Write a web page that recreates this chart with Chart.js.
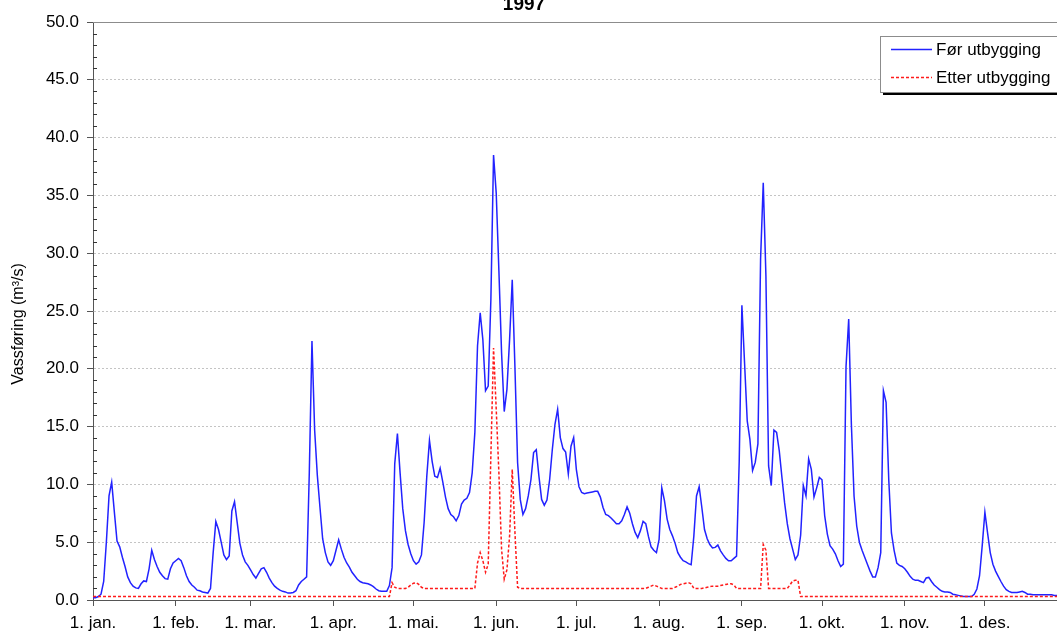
<!DOCTYPE html>
<html>
<head>
<meta charset="utf-8">
<title>Vassføring 1997</title>
<script src="https://cdn.jsdelivr.net/npm/chart.js@4.4.0/dist/chart.umd.min.js"></script>
<style>
  html, body { margin: 0; padding: 0; background: #fff; overflow: hidden; }
  #wrap { width: 1057px; height: 633px; overflow: hidden; }
</style>
</head>
<body>
<div id="wrap"><canvas id="flowChart" width="1070" height="633"></canvas></div>
<script>
// Daily discharge 1997 (m3/s), one value per day
const chartTitle = '1997';
const yTitle = 'Vassføring (m³/s)';
const seriesNames = ['Før utbygging', 'Etter utbygging'];

// x ticks: first day of each month (day index) and its label
const monthStarts = [0, 31, 59, 90, 120, 151, 181, 212, 243, 273, 304, 334];
const monthLabels = ['1. jan.', '1. feb.', '1. mar.', '1. apr.', '1. mai.', '1. jun.',
  '1. jul.', '1. aug.', '1. sep.', '1. okt.', '1. nov.', '1. des.'];

// Før utbygging (blue)
const flowBefore = [
  // jan
  0.2, 0.2, 0.3, 0.5, 1.6, 5.0, 9.0, 10.2, 7.6, 5.1, 4.6, 3.7, 2.9, 2.0, 1.5, 1.2,
  1.05, 1.0, 1.4, 1.65, 1.6, 2.7, 4.3, 3.5, 2.9, 2.4, 2.1, 1.85, 1.8, 2.7, 3.2,
  // feb
  3.4, 3.6, 3.4, 2.8, 2.1, 1.6, 1.3, 1.1, 0.85, 0.8, 0.7, 0.65, 0.6, 1.0, 4.1, 6.8,
  6.1, 5.0, 3.9, 3.5, 3.8, 7.7, 8.5, 6.7, 4.9, 3.9, 3.3, 3.0,
  // mar
  2.6, 2.2, 1.9, 2.3, 2.7, 2.8, 2.4, 1.9, 1.5, 1.2, 1.0, 0.85, 0.75, 0.7, 0.6, 0.6,
  0.65, 0.8, 1.3, 1.6, 1.8, 2.0, 11.0, 22.4, 14.7, 10.8, 8.0, 5.3, 4.1, 3.3, 3.0,
  // apr
  3.4, 4.3, 5.2, 4.4, 3.7, 3.2, 2.85, 2.4, 2.1, 1.8, 1.6, 1.5, 1.45, 1.4, 1.3, 1.15,
  0.95, 0.8, 0.75, 0.75, 0.75, 1.25, 2.8, 11.8, 14.4, 11.0, 7.9, 6.0, 4.8, 4.0,
  // mai
  3.4, 3.1, 3.3, 3.9, 6.7, 10.7, 13.8, 12.0, 10.7, 10.6, 11.4, 10.2, 8.9, 7.9, 7.4, 7.2,
  6.85, 7.3, 8.3, 8.65, 8.8, 9.3, 11.0, 14.5, 22.0, 24.85, 22.5, 18.1, 18.5, 26.0, 38.5,
  // jun
  35.2, 28.5, 21.4, 16.3, 18.2, 22.5, 27.7, 20.2, 11.9, 8.7, 7.4, 7.9, 9.0, 10.4, 12.75,
  13.0, 10.7, 8.7, 8.2, 8.65, 10.4, 13.0, 15.2, 16.5, 14.05, 13.1, 12.8, 10.9, 13.3, 14.05,
  // jul
  11.3, 9.8, 9.3, 9.2, 9.25, 9.3, 9.35, 9.4, 9.4, 8.9, 8.0, 7.4, 7.3, 7.1, 6.85, 6.6,
  6.6, 6.85, 7.4, 8.05, 7.5, 6.6, 5.85, 5.4, 6.0, 6.8, 6.6, 5.5, 4.6, 4.3, 4.1,
  // aug
  5.25, 9.7, 8.6, 7.0, 6.1, 5.55, 4.9, 4.1, 3.7, 3.4, 3.3, 3.15, 3.05, 5.5, 9.0, 9.8,
  8.0, 6.1, 5.3, 4.8, 4.5, 4.55, 4.75, 4.25, 3.9, 3.6, 3.4, 3.4, 3.6, 3.8, 12.0,
  // sep
  25.5, 20.5, 15.5, 13.9, 11.2, 11.9, 13.5, 29.5, 36.1, 28.0, 11.6, 9.9, 14.7, 14.5, 12.9,
  10.6, 8.4, 6.6, 5.3, 4.4, 3.5, 3.9, 5.6, 9.9, 9.0, 12.2, 11.3, 8.9, 9.7, 10.6,
  // okt
  10.4, 7.3, 5.7, 4.7, 4.4, 4.0, 3.4, 2.9, 3.1, 20.2, 24.3, 15.2, 9.0, 6.4, 5.0, 4.3,
  3.7, 3.1, 2.5, 2.0, 2.0, 2.8, 4.1, 18.1, 17.1, 10.4, 5.8, 4.3, 3.2, 3.0, 2.9,
  // nov
  2.7, 2.4, 2.05, 1.8, 1.7, 1.7, 1.6, 1.5, 1.9, 1.95, 1.6, 1.3, 1.1, 0.9, 0.75,
  0.7, 0.7, 0.65, 0.5, 0.45, 0.4, 0.35, 0.3, 0.3, 0.3, 0.3, 0.5, 0.95, 2.1, 4.7,
  // des
  7.6, 5.8, 4.1, 3.1, 2.5, 2.05, 1.6, 1.2, 0.9, 0.75, 0.65, 0.65, 0.65, 0.7, 0.75, 0.65,
  0.5, 0.5, 0.45, 0.45, 0.45, 0.45, 0.45, 0.45, 0.45, 0.45, 0.4, 0.4, 0.4, 0.4, 0.4
];

// Etter utbygging (red, dashed)
const flowAfter = [
  // jan
  0.3, 0.3, 0.3, 0.3, 0.3, 0.3, 0.3, 0.3, 0.3, 0.3, 0.3, 0.3, 0.3, 0.3, 0.3, 0.3,
  0.3, 0.3, 0.3, 0.3, 0.3, 0.3, 0.3, 0.3, 0.3, 0.3, 0.3, 0.3, 0.3, 0.3, 0.3,
  // feb
  0.3, 0.3, 0.3, 0.3, 0.3, 0.3, 0.3, 0.3, 0.3, 0.3, 0.3, 0.3, 0.3, 0.3, 0.3, 0.3,
  0.3, 0.3, 0.3, 0.3, 0.3, 0.3, 0.3, 0.3, 0.3, 0.3, 0.3, 0.3,
  // mar
  0.3, 0.3, 0.3, 0.3, 0.3, 0.3, 0.3, 0.3, 0.3, 0.3, 0.3, 0.3, 0.3, 0.3, 0.3, 0.3,
  0.3, 0.3, 0.3, 0.3, 0.3, 0.3, 0.3, 0.3, 0.3, 0.3, 0.3, 0.3, 0.3, 0.3, 0.3,
  // apr
  0.3, 0.3, 0.3, 0.3, 0.3, 0.3, 0.3, 0.3, 0.3, 0.3, 0.3, 0.3, 0.3, 0.3, 0.3, 0.3,
  0.3, 0.3, 0.3, 0.3, 0.3, 0.3, 1.5, 1.1, 1.0, 1.0, 1.0, 1.0, 1.1, 1.3,
  // mai
  1.45, 1.5, 1.35, 1.1, 1.0, 1.0, 1.0, 1.0, 1.0, 1.0, 1.0, 1.0, 1.0, 1.0, 1.0, 1.0,
  1.0, 1.0, 1.0, 1.0, 1.0, 1.0, 1.0, 1.0, 3.2, 4.1, 3.4, 2.4, 3.1, 12.5, 21.8,
  // jun
  16.5, 11.0, 4.4, 1.8, 2.6, 5.5, 11.3, 5.9, 1.1, 1.0, 1.0, 1.0, 1.0, 1.0, 1.0,
  1.0, 1.0, 1.0, 1.0, 1.0, 1.0, 1.0, 1.0, 1.0, 1.0, 1.0, 1.0, 1.0, 1.0, 1.0,
  // jul
  1.0, 1.0, 1.0, 1.0, 1.0, 1.0, 1.0, 1.0, 1.0, 1.0, 1.0, 1.0, 1.0, 1.0, 1.0, 1.0,
  1.0, 1.0, 1.0, 1.0, 1.0, 1.0, 1.0, 1.0, 1.0, 1.0, 1.0, 1.1, 1.2, 1.3, 1.2,
  // aug
  1.1, 1.0, 1.0, 1.0, 1.0, 1.0, 1.1, 1.2, 1.35, 1.4, 1.45, 1.5, 1.4, 1.0, 1.0, 1.0,
  1.0, 1.05, 1.1, 1.15, 1.2, 1.2, 1.2, 1.25, 1.3, 1.35, 1.4, 1.4, 1.3, 1.0, 1.0,
  // sep
  1.0, 1.0, 1.0, 1.0, 1.0, 1.0, 1.0, 1.0, 4.8, 4.3, 1.0, 1.0, 1.0, 1.0, 1.0,
  1.0, 1.0, 1.0, 1.3, 1.65, 1.7, 1.7, 0.3, 0.3, 0.3, 0.3, 0.3, 0.3, 0.3, 0.3,
  // okt
  0.3, 0.3, 0.3, 0.3, 0.3, 0.3, 0.3, 0.3, 0.3, 0.3, 0.3, 0.3, 0.3, 0.3, 0.3, 0.3,
  0.3, 0.3, 0.3, 0.3, 0.3, 0.3, 0.3, 0.3, 0.3, 0.3, 0.3, 0.3, 0.3, 0.3, 0.3,
  // nov
  0.3, 0.3, 0.3, 0.3, 0.3, 0.3, 0.3, 0.3, 0.3, 0.3, 0.3, 0.3, 0.3, 0.3, 0.3,
  0.3, 0.3, 0.3, 0.3, 0.3, 0.3, 0.3, 0.3, 0.3, 0.3, 0.3, 0.3, 0.3, 0.3, 0.3,
  // des
  0.3, 0.3, 0.3, 0.3, 0.3, 0.3, 0.3, 0.3, 0.3, 0.3, 0.3, 0.3, 0.3, 0.3, 0.3, 0.3,
  0.3, 0.3, 0.3, 0.3, 0.3, 0.3, 0.3, 0.3, 0.3, 0.3, 0.3, 0.3, 0.3, 0.3, 0.3
];

const FONT = "'Liberation Sans', Arial, sans-serif";
const BLUE = '#2222ff';
const RED = '#ff1a1a';

Chart.defaults.font.family = FONT;
Chart.defaults.color = '#000';

// title, y title, minor y ticks, top frame line and the boxed legend
const extras = {
  id: 'extras',
  afterDraw(chart) {
    const { ctx, chartArea: a } = chart;
    const y = chart.scales.y;
    ctx.save();

    // top line at 50
    ctx.strokeStyle = '#8c8c8c';
    ctx.lineWidth = 1;
    ctx.beginPath();
    ctx.moveTo(a.left, Math.round(a.top) + 0.5);
    ctx.lineTo(a.right, Math.round(a.top) + 0.5);
    ctx.stroke();

    // minor ticks on the y axis, pointing inwards
    ctx.strokeStyle = '#333';
    ctx.beginPath();
    for (let v = 1; v < 50; v++) {
      if (v % 5 === 0) continue;
      const py = Math.round(y.getPixelForValue(v)) + 0.5;
      ctx.moveTo(a.left, py);
      ctx.lineTo(a.left + 4, py);
    }
    ctx.stroke();

    // title, partly cut by the top edge as in the reference
    ctx.fillStyle = '#000';
    ctx.font = 'bold 19px ' + FONT;
    ctx.textAlign = 'center';
    ctx.textBaseline = 'alphabetic';
    ctx.fillText(chartTitle, 524, 10);

    // y axis title
    ctx.save();
    ctx.translate(19, 324);
    ctx.rotate(-Math.PI / 2);
    ctx.font = '16px ' + FONT;
    ctx.textBaseline = 'middle';
    ctx.fillText(yTitle, 0, 0);
    ctx.restore();

    // legend box with shadow
    const bx = 880, by = 36, bw = 200, bh = 56;
    ctx.fillStyle = '#000';
    ctx.fillRect(bx + 3, by + bh, bw, 3);
    ctx.fillStyle = '#fff';
    ctx.fillRect(bx, by, bw, bh);
    ctx.strokeStyle = '#8c8c8c';
    ctx.strokeRect(bx + 0.5, by + 0.5, bw, bh);

    const items = [
      { text: seriesNames[0], color: BLUE, dash: [], y: by + 13 },
      { text: seriesNames[1], color: RED, dash: [3, 2], y: by + 41 }
    ];
    ctx.font = '17px ' + FONT;
    ctx.textAlign = 'left';
    ctx.textBaseline = 'middle';
    items.forEach((it) => {
      ctx.strokeStyle = it.color;
      ctx.lineWidth = 1.5;
      ctx.setLineDash(it.dash);
      ctx.beginPath();
      ctx.moveTo(bx + 11, it.y + 0.5);
      ctx.lineTo(bx + 52, it.y + 0.5);
      ctx.stroke();
      ctx.setLineDash([]);
      ctx.fillStyle = '#000';
      ctx.fillText(it.text, bx + 56, it.y + 1);
    });

    ctx.restore();
  }
};

new Chart(document.getElementById('flowChart'), {
  type: 'line',
  data: {
    datasets: [
      {
        label: seriesNames[0],
        data: flowBefore.map((v, i) => ({ x: i, y: v })),
        borderColor: BLUE,
        borderWidth: 1.5,
        pointRadius: 0,
        tension: 0,
        order: 1,
      },
      {
        label: seriesNames[1],
        data: flowAfter.map((v, i) => ({ x: i, y: v })),
        borderColor: RED,
        borderWidth: 1.5,
        borderDash: [3, 2],
        pointRadius: 0,
        tension: 0,
        order: 0,
      },
    ],
  },
  options: {
    responsive: false,
    animation: false,
    layout: { padding: { left: 0, right: 5, top: 22, bottom: 0 } },
    plugins: {
      legend: { display: false },
      tooltip: { enabled: false },
    },
    scales: {
      x: {
        type: 'linear',
        min: 0,
        max: 364,
        afterBuildTicks: (scale) => {
          scale.ticks = monthStarts.map((d) => ({ value: d }));
        },
        afterFit: (scale) => { scale.height = 33; },
        ticks: {
          autoSkip: false,
          maxRotation: 0,
          padding: 7,
          font: { size: 17 },
          callback: (value) => monthLabels[monthStarts.indexOf(value)],
        },
        grid: { drawOnChartArea: false, tickLength: 6, tickColor: '#555' },
        border: { display: true, color: '#555', width: 1 },
      },
      y: {
        min: 0,
        max: 50,
        afterFit: (scale) => { scale.width = 93; },
        ticks: {
          stepSize: 5,
          padding: 8,
          font: { size: 17 },
          callback: (value) => value.toFixed(1),
        },
        grid: { color: '#c4c4c4', tickColor: '#555', tickLength: 6, tickBorderDash: [] },
        border: { display: true, color: '#555', width: 1, dash: [2, 2] },
      },
    },
  },
  plugins: [extras],
});
</script>
</body>
</html>
